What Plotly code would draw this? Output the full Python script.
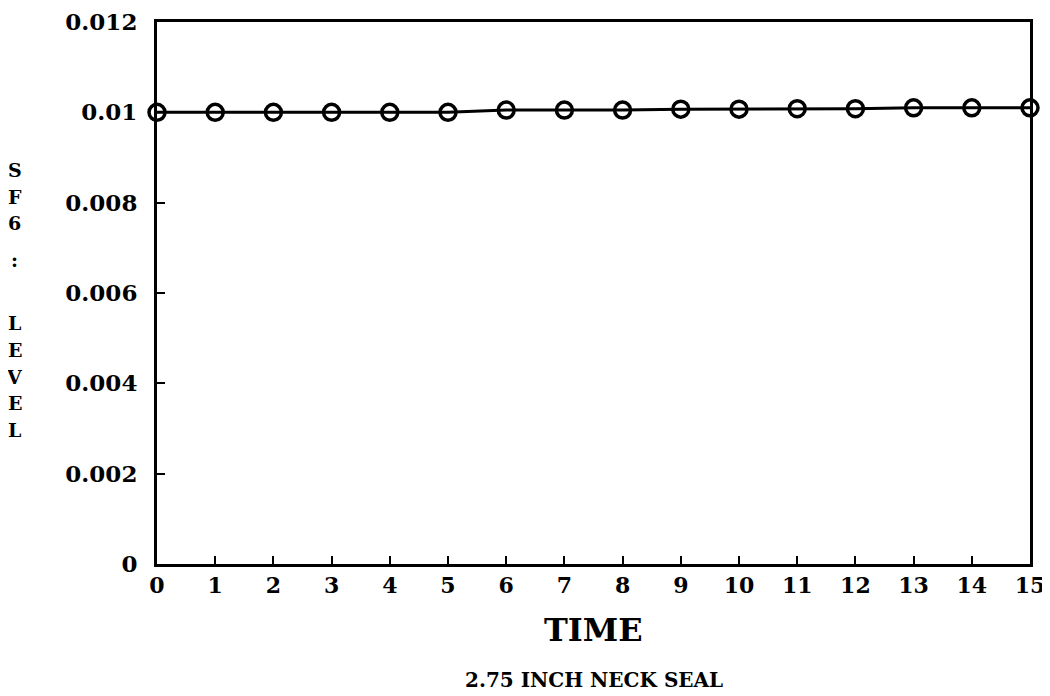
import plotly.graph_objects as go

time = list(range(16))
sf6_level = [0.0100, 0.0100, 0.0100, 0.0100, 0.0100, 0.0100, 0.01005, 0.01005,
             0.01005, 0.01007, 0.01007, 0.01008, 0.01008, 0.0101, 0.0101, 0.0101]

x_tickvals = list(range(16))
x_ticktext = [str(v) for v in x_tickvals]
y_tickvals = [0, 0.002, 0.004, 0.006, 0.008, 0.01, 0.012]
y_ticktext = ["0", "0.002", "0.004", "0.006", "0.008", "0.01", "0.012"]

x_title = "TIME"
caption = "2.75 INCH NECK SEAL"
y_title_chars = ["S", "F", "6", ":", "L", "E", "V", "E", "L"]
# vertical placement (paper fraction) of each stacked letter of the y title
y_title_pos = [0.727, 0.677, 0.629, 0.561, 0.445, 0.395, 0.345, 0.297, 0.247]

FONT = "DejaVu Serif"

fig = go.Figure()
fig.add_trace(go.Scatter(
    x=time, y=sf6_level, mode="lines+markers",
    line=dict(color="black", width=3),
    marker=dict(symbol="circle-open", size=16, color="black", line=dict(width=3.5)),
    cliponaxis=False, showlegend=False,
))

fig.update_layout(
    width=1050, height=696,
    margin=dict(l=149, r=28, t=14, b=140, autoexpand=False),
    paper_bgcolor="white", plot_bgcolor="white",
    font=dict(family=FONT, color="black", size=20, weight="bold"),
    xaxis=dict(
        range=[0, 15], tickvals=x_tickvals, ticktext=x_ticktext,
        ticks="inside", ticklen=8, tickwidth=2, tickcolor="black",
        showline=True, linewidth=3, linecolor="black", mirror=True,
        showgrid=False, zeroline=False, automargin=False,
        ticklabelstandoff=0, ticklabeloverflow="allow",
        tickfont=dict(family=FONT, size=22, weight="bold"),
    ),
    yaxis=dict(
        range=[0, 0.012], tickvals=y_tickvals, ticktext=y_ticktext,
        ticks="inside", ticklen=8, tickwidth=2, tickcolor="black",
        showline=True, linewidth=3, linecolor="black", mirror=True,
        showgrid=False, zeroline=False, automargin=False,
        ticklabelstandoff=12, ticklabeloverflow="allow",
        tickfont=dict(family=FONT, size=23, weight="bold"),
    ),
)

fig.add_annotation(
    text=x_title, xref="paper", yref="paper", x=0.5, y=-0.122,
    xanchor="center", yanchor="middle", showarrow=False,
    font=dict(family=FONT, size=32, weight="bold"),
)
fig.add_annotation(
    text=caption, xref="paper", yref="paper", x=0.5, y=-0.214,
    xanchor="center", yanchor="middle", showarrow=False,
    font=dict(family=FONT, size=20, weight="bold"),
)
for ch, yp in zip(y_title_chars, y_title_pos):
    fig.add_annotation(
        text=ch, xref="paper", yref="paper", x=-0.163, y=yp,
        xanchor="center", yanchor="middle", showarrow=False,
        font=dict(family=FONT, size=19, weight="bold"),
    )

fig.write_html("out.html")
